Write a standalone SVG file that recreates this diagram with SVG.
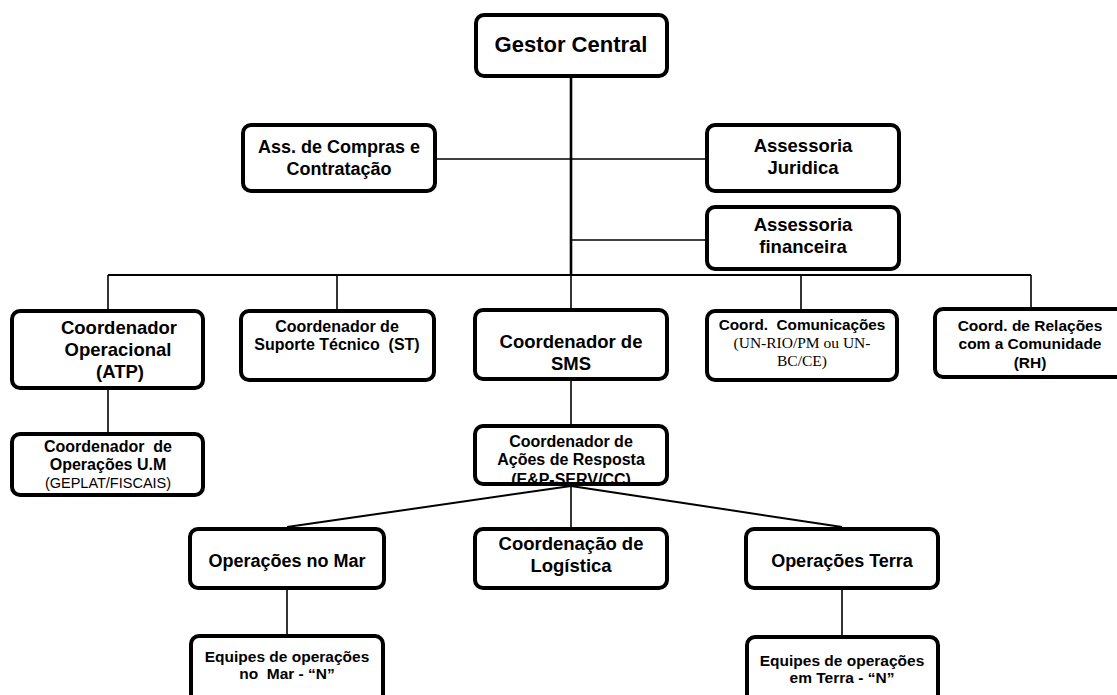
<svg xmlns="http://www.w3.org/2000/svg" width="1117" height="695" viewBox="0 0 1117 695">
<style>
.box{fill:#fff;stroke:#000;stroke-width:4}
.frame{fill:none;stroke:#000;stroke-width:4}
.ln{stroke:#000;stroke-width:1.6;fill:none}
.t{font-family:"Liberation Sans",Arial,sans-serif;font-weight:bold;text-anchor:middle;fill:#000;white-space:pre}
.r{font-family:"Liberation Sans",Arial,sans-serif;text-anchor:middle;fill:#000}
.s{font-family:"Liberation Serif","Times New Roman",serif;text-anchor:middle;fill:#000}
</style>
<defs>
<clipPath id="clipAcoes"><rect x="475" y="426" width="192" height="56"/></clipPath>
</defs>
<rect width="1117" height="695" fill="#fff"/>
<g id="connectors">
<line class="ln" x1="571" y1="78" x2="571" y2="275" style="stroke-width:2.6"/>
<line class="ln" x1="437" y1="159" x2="705" y2="159"/>
<line class="ln" x1="571" y1="240" x2="705" y2="240"/>
<line class="ln" x1="108" y1="275" x2="1031" y2="275" style="stroke-width:2"/>
<line class="ln" x1="108" y1="275" x2="108" y2="309"/>
<line class="ln" x1="337" y1="275" x2="337" y2="309"/>
<line class="ln" x1="571" y1="275" x2="571" y2="308"/>
<line class="ln" x1="801" y1="275" x2="801" y2="309"/>
<line class="ln" x1="1031" y1="275" x2="1031" y2="307"/>
<line class="ln" x1="108" y1="390" x2="108" y2="432"/>
<line class="ln" x1="571" y1="381" x2="571" y2="424"/>
<line class="ln" x1="571" y1="486" x2="287" y2="527" style="stroke-width:2"/>
<line class="ln" x1="571" y1="486" x2="571" y2="527"/>
<line class="ln" x1="571" y1="486" x2="842" y2="527" style="stroke-width:2"/>
<line class="ln" x1="287" y1="590" x2="287" y2="634"/>
<line class="ln" x1="842" y1="590" x2="842" y2="635"/>
</g>
<g id="gestor">
<rect class="box" x="476" y="15" width="191" height="61" rx="8"/>
<text class="t" x="571" y="52" font-size="22">Gestor Central</text>
</g>
<g id="compras">
<rect class="box" x="243" y="125" width="192" height="66" rx="8"/>
<text class="t" x="339" y="153" font-size="18">Ass. de Compras e</text>
<text class="t" x="339" y="175" font-size="18">Contratação</text>
</g>
<g id="juridica">
<rect class="box" x="707" y="125" width="192" height="66" rx="8"/>
<text class="t" x="803" y="152" font-size="18.5">Assessoria</text>
<text class="t" x="803" y="174" font-size="18.5">Juridica</text>
</g>
<g id="financeira">
<rect class="box" x="707" y="207" width="192" height="62" rx="8"/>
<text class="t" x="803" y="231" font-size="18.5">Assessoria</text>
<text class="t" x="803" y="253" font-size="18.5">financeira</text>
</g>
<g id="operacional">
<rect class="box" x="12" y="311" width="191" height="77" rx="8"/>
<text class="t" x="119" y="334" font-size="18.5">Coordenador</text>
<text class="t" x="118" y="356" font-size="18.5">Operacional</text>
<text class="t" x="120" y="378" font-size="18.5">(ATP)</text>
</g>
<g id="suporte">
<rect class="box" x="241" y="311" width="193" height="69" rx="8"/>
<text class="t" x="337" y="332" font-size="16">Coordenador de</text>
<text class="t" x="337" y="350" font-size="16">Suporte Técnico  (ST)</text>
</g>
<g id="sms">
<rect class="box" x="475" y="310" width="192" height="69" rx="8"/>
<text class="t" x="571" y="348" font-size="18.5">Coordenador de</text>
<text class="t" x="571" y="370" font-size="18.5">SMS</text>
</g>
<g id="comunicacoes">
<rect class="box" x="707" y="311" width="190" height="69" rx="8"/>
<text class="t" x="802" y="330" font-size="15.3">Coord.  Comunicações</text>
<text class="s" x="802" y="348" font-size="15.5">(UN-RIO/PM ou UN-</text>
<text class="s" x="802" y="366" font-size="15.5">BC/CE)</text>
</g>
<g id="relacoes">
<rect class="box" x="935" y="309" width="192" height="68" rx="8"/>
<text class="t" x="1030" y="331" font-size="15.5">Coord. de Relações</text>
<text class="t" x="1030" y="349" font-size="15.5">com a Comunidade</text>
<text class="t" x="1030" y="368" font-size="15.5">(RH)</text>
</g>
<g id="operacoes-um">
<rect class="box" x="12" y="434" width="191" height="61" rx="8"/>
<text class="t" x="108" y="452" font-size="16">Coordenador  de</text>
<text class="t" x="108" y="470" font-size="16">Operações U.M</text>
<text class="r" x="108" y="488" font-size="14.5">(GEPLAT/FISCAIS)</text>
</g>
<g id="acoes">
<rect x="475" y="426" width="192" height="58" rx="8" fill="#fff"/>
<g clip-path="url(#clipAcoes)">
<text class="t" x="571" y="447" font-size="16">Coordenador de</text>
<text class="t" x="571" y="465" font-size="16">Ações de Resposta</text>
<text class="t" x="571" y="485" font-size="16">(E&amp;P-SERV/CC)</text>
</g>
<rect class="frame" x="475" y="426" width="192" height="58" rx="8"/>
</g>
<g id="mar">
<rect class="box" x="190" y="529" width="194" height="59" rx="8"/>
<text class="t" x="287" y="567" font-size="18">Operações no Mar</text>
</g>
<g id="logistica">
<rect class="box" x="475" y="529" width="192" height="59" rx="8"/>
<text class="t" x="571" y="550" font-size="18.5">Coordenação de</text>
<text class="t" x="571" y="572" font-size="18.5">Logística</text>
</g>
<g id="terra">
<rect class="box" x="746" y="529" width="192" height="59" rx="8"/>
<text class="t" x="842" y="567" font-size="18">Operações Terra</text>
</g>
<g id="equipes-mar">
<rect class="box" x="191" y="636" width="192" height="80" rx="8"/>
<text class="t" x="287" y="662" font-size="15.5">Equipes de operações</text>
<text class="t" x="287" y="679" font-size="15.5">no  Mar - “N”</text>
</g>
<g id="equipes-terra">
<rect class="box" x="747" y="637" width="191" height="80" rx="8"/>
<text class="t" x="842" y="666" font-size="15.5">Equipes de operações</text>
<text class="t" x="842" y="683" font-size="15.5">em Terra - “N”</text>
</g>
</svg>
